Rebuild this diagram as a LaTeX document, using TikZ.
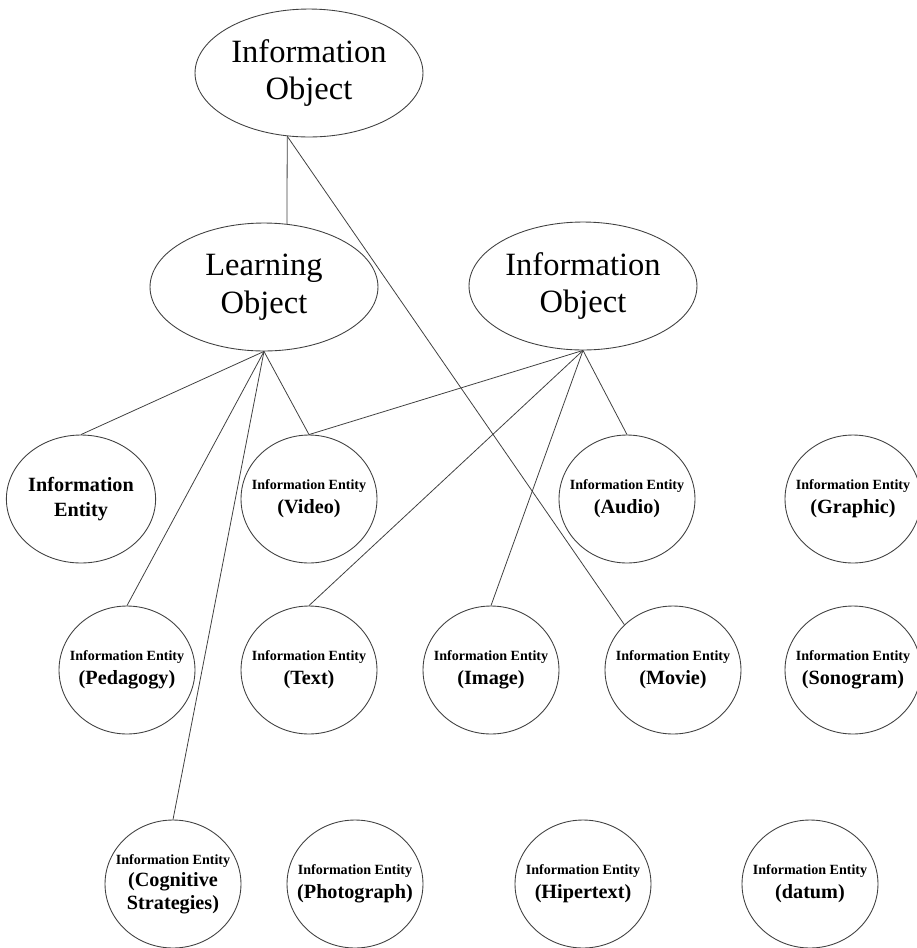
\documentclass[tikz,border=0pt]{standalone}
\usepackage{fontspec}
\setmainfont{Liberation Serif}
\usetikzlibrary{shapes.geometric, positioning}
\tikzstyle{obj} = [ellipse, draw=black!75, line width=0.5pt, inner sep=0pt, minimum width=4.56cm, minimum height=2.56cm, align=center, font=\fontsize{18.5}{21.5}\selectfont]
\tikzstyle{ent} = [ellipse, draw=black!75, line width=0.5pt, inner xsep=-4mm, inner ysep=0pt, minimum width=2.72cm, minimum height=2.56cm, align=center, font=\bfseries\fontsize{11.5}{13.6}\selectfont]
\tikzstyle{link} = [draw=black!75, line width=0.45pt]
\def\ient(#1){{\fontsize{8}{9}\selectfont Information Entity}\\#1}

\begin{document}
\begin{tikzpicture}[x=0.02cm, y=-0.02cm]
\useasboundingbox (0,0) rectangle (917,948);
% objects
\draw (309,73) node (io) [obj] {Information\\Object};
\draw (264,287) node (lo) [obj] {Learning\\Object};
\draw (583,286) node (rio) [obj] {Information\\Object};
% entities, second row
\draw (81,499) node (ie) [ent, inner xsep=0pt, font=\bfseries\fontsize{11.5}{14}\selectfont] {Information\\Entity};
\draw (309,499) node (video) [ent] {\ient({(Video)})};
\draw (627,499) node (audio) [ent] {\ient({(Audio)})};
\draw (853,499) node (graphic) [ent] {\ient({(Graphic)})};
% third row
\draw (127,670) node (ped) [ent] {\ient({(Pedagogy)})};
\draw (309,670) node (text) [ent] {\ient({(Text)})};
\draw (491,670) node (image) [ent] {\ient({(Image)})};
\draw (673,670) node (movie) [ent] {\ient({(Movie)})};
\draw (853,670) node (sono) [ent] {\ient({(Sonogram)})};
% last row
\draw (173,884) node (cog) [ent, font=\bfseries\fontsize{11.5}{12.8}\selectfont] {\ient({(Cognitive\\Strategies)})};
\draw (355,884) node (photo) [ent] {\ient({(Photograph)})};
\draw (583,884) node (hiper) [ent] {\ient({(Hipertext)})};
\draw (810,884) node (datum) [ent] {\ient({(datum)})};
% links
\draw [link] (io.251)--(lo.70);
\draw [link] (io.251)--(movie.137);
\draw [link] (lo.south)--(ie.north);
\draw [link] (lo.south)--(video.north);
\draw [link] (lo.south)--(ped.north);
\draw [link] (lo.south)--(cog.north);
\draw [link] (rio.south)--(video.north);
\draw [link] (rio.south)--(text.north);
\draw [link] (rio.south)--(image.north);
\draw [link] (rio.south)--(audio.north);
\end{tikzpicture}
\end{document}
